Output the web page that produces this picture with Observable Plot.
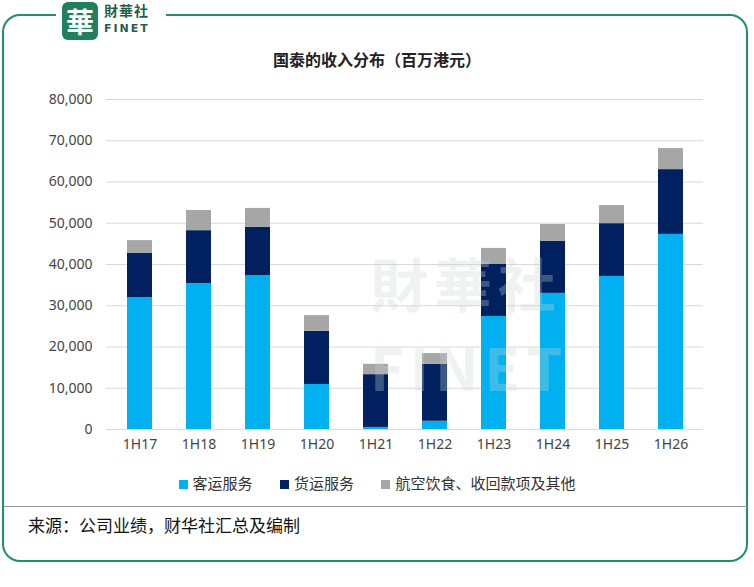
<!DOCTYPE html>
<html><head><meta charset="utf-8">
<script src="https://cdn.jsdelivr.net/npm/d3@7"></script>
<script src="https://cdn.jsdelivr.net/npm/@observablehq/plot@0.6"></script>
<style>
body{margin:0;background:#fff;font-family:"Noto Sans CJK SC","Noto Sans",sans-serif;}
#wrap{position:relative;width:754px;height:587px;overflow:hidden;}
#frame{position:absolute;left:2px;top:14px;width:746px;height:548px;border:2px solid #1f8f6a;border-radius:18px;box-sizing:border-box;}
#logo{position:absolute;left:56px;top:0;width:110px;height:42px;background:#fff;}
#logo .sq{position:absolute;left:6px;top:2px;width:36px;height:38px;background:#1f7f5f;border-radius:6px;color:#fff;font-size:28px;line-height:38px;text-align:center;font-weight:bold;}
#logo .t1{position:absolute;left:48px;top:2px;font-size:14px;line-height:16px;font-weight:bold;color:#1f5f4a;letter-spacing:1px;}
#logo .t2{position:absolute;left:48px;top:22px;font-size:11px;line-height:13px;font-weight:bold;color:#1f5f4a;letter-spacing:2px;font-family:"DejaVu Sans";}
#title{position:absolute;left:0;width:754px;top:47px;text-align:center;font-size:16px;font-weight:bold;color:#222;}
#chart{position:absolute;left:0;top:85px;}
#legend{position:absolute;left:0;width:754px;top:472px;text-align:center;font-size:15px;color:#333;}
#legend span.sw{display:inline-block;width:9px;height:9px;margin-right:5px;}
#legend .it{margin:0 12px;}
#line{position:absolute;left:4px;width:744px;top:506px;border-top:1px solid #999;}
#src{position:absolute;left:28px;top:512px;font-size:17px;color:#111;}
#wm{position:absolute;left:370px;top:240px;font-size:58px;color:rgba(200,215,210,0.3);font-weight:bold;letter-spacing:6px;}
</style></head><body>
<div id="wrap">
<div id="frame"></div>
<div id="logo"><div class="sq">華</div><div class="t1">財華社</div><div class="t2">FINET</div></div>
<div id="title">国泰的收入分布（百万港元）</div>
<div id="chart"></div>
<div id="wm">財華社<br>FINET</div>
<div id="legend">
<span class="it"><span class="sw" style="background:#00b0f0"></span>客运服务</span>
<span class="it"><span class="sw" style="background:#002060"></span>货运服务</span>
<span class="it"><span class="sw" style="background:#a6a6a6"></span>航空饮食、收回款项及其他</span>
</div>
<div id="line"></div>
<div id="src">来源：公司业绩，财华社汇总及编制</div>
</div>
<script>
const periods=["1H17","1H18","1H19","1H20","1H21","1H22","1H23","1H24","1H25","1H26"];
const passenger=[32000,35400,37300,10900,500,2000,27400,33000,37100,47300];
const cargo=[10700,12800,11700,12900,12800,13800,12600,12600,12800,15700];
const other=[3100,4900,4600,3800,2500,2600,3900,4100,4400,5100];
const seriesNames=["客运服务","货运服务","航空饮食、收回款项及其他"];
const colors=["#00b0f0","#002060","#a6a6a6"];
const data=[];
periods.forEach((p,i)=>{
 data.push({p,s:seriesNames[0],v:passenger[i]});
 data.push({p,s:seriesNames[1],v:cargo[i]});
 data.push({p,s:seriesNames[2],v:other[i]});
});
const chart=Plot.plot({
 width:754,height:370,marginTop:14,marginBottom:26,marginLeft:106,marginRight:51,
 style:{fontSize:"14px",fontFamily:"Noto Sans, sans-serif",color:"#444",background:"transparent"},
 x:{domain:periods,paddingInner:0.58,paddingOuter:0.29,label:null,tickSize:0,tickPadding:10},
 y:{domain:[0,80000],ticks:d3.range(0,80001,10000),tickFormat:d3.format(","),label:null,tickSize:0,tickPadding:14},
 color:{domain:seriesNames,range:colors},
 marks:[
  Plot.gridY(d3.range(10000,80001,10000),{stroke:"#d9d9d9",strokeOpacity:1}),
  Plot.ruleY([0],{stroke:"#d9d9d9"}),
  Plot.barY(data,{x:"p",y:"v",fill:"s",order:seriesNames})
 ]
});
document.getElementById("chart").appendChild(chart);
</script>
</body></html>
